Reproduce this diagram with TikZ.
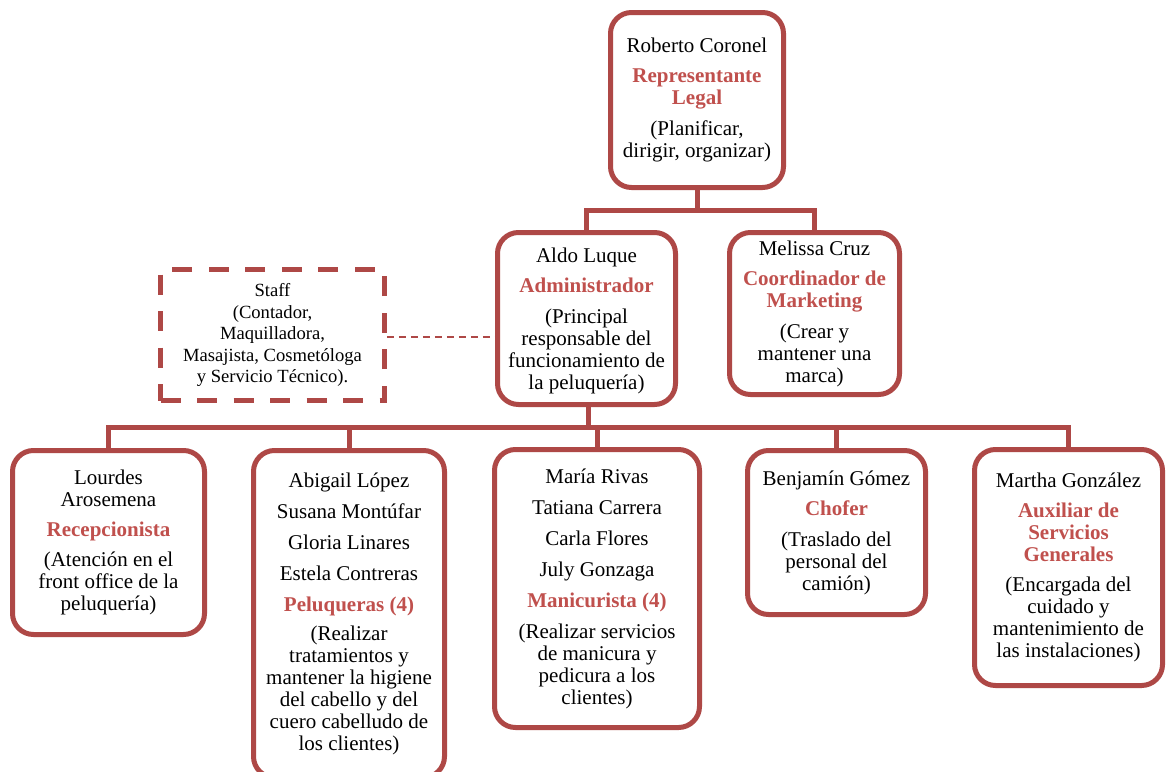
\documentclass[tikz,border=0pt]{standalone}
\usepackage{fontspec}
\setmainfont{Liberation Serif}
\definecolor{linered}{RGB}{174,72,70}
\definecolor{titlered}{RGB}{192,80,77}
\newcommand\rolet[1]{{\color{titlered}\bfseries #1}}
\tikzset{
  box/.style={draw=linered, line width=5pt, rounded corners=21pt, fill=white,
    inner sep=0pt, align=center, font=\fontsize{21}{22}\selectfont},
  staffbox/.style={draw=linered, line width=4.5pt, dash pattern=on 20pt off 16.5pt,
    fill=white, inner sep=0pt, align=center, font=\fontsize{18.6}{21.5}\selectfont},
  conn/.style={draw=linered, line width=5pt},
  staffconn/.style={draw=linered, line width=1.5pt, dash pattern=on 7pt off 5pt}
}
\begin{document}
\begin{tikzpicture}[x=1pt,y=-1pt]
\useasboundingbox (0,0) rectangle (1166,771);
\clip (0,0) rectangle (1166,771);
\fill[white] (0,0) rectangle (1166,771);

\node[box, minimum width=173pt, minimum height=175pt, text depth=4pt] (rob) at (697,100)
  {Roberto Coronel\\[8pt]\rolet{Representante}\\\rolet{Legal}\\[9pt](Planificar,\\dirigir, organizar)};
\node[box, minimum width=178pt, minimum height=172pt] (aldo) at (586.5,318.5)
  {\rule{0pt}{19pt}Aldo Luque\\[8pt]\rolet{Administrador}\\[9pt](Principal\\responsable del\\funcionamiento de\\la peluquería)};
\node[box, minimum width=170pt, minimum height=162pt] (mel) at (814.5,313.5)
  {Melissa Cruz\\[8pt]\rolet{Coordinador de}\\\rolet{Marketing}\\[9pt](Crear y\\mantener una\\marca)};
\node[staffbox, minimum width=224pt, minimum height=131pt] (staff) at (272.5,335)
  {Staff\\(Contador,\\Maquilladora,\\Masajista, Cosmetóloga\\y Servicio Técnico).};

\node[box, minimum width=192pt, minimum height=184pt] (lou) at (108.5,542.5)
  {Lourdes\\Arosemena\\[8pt]\rolet{Recepcionista}\\[8pt](Atención en el\\front office de la\\peluquería)};
\node[box, minimum width=191pt, minimum height=327pt] (abi) at (349,614)
  {Abigail López\\[9pt]Susana Montúfar\\[9pt]Gloria Linares\\[9pt]Estela Contreras\\[9pt]\rolet{Peluqueras (4)}\\[7pt](Realizar\\tratamientos y\\mantener la higiene\\del cabello y del\\cuero cabelludo de\\los clientes)};
\node[box, minimum width=205pt, minimum height=278pt] (mari) at (597,588.5)
  {María Rivas\\[9pt]Tatiana Carrera\\[9pt]Carla Flores\\[9pt]July Gonzaga\\[9pt]\rolet{Manicurista (4)}\\[9pt](Realizar servicios\\de manicura y\\pedicura a los\\clientes)};
\node[box, minimum width=178pt, minimum height=164pt] (ben) at (836.5,532.5)
  {Benjamín Gómez\\[8pt]\rolet{Chofer}\\[9pt](Traslado del\\personal del\\camión)};
\node[box, minimum width=188pt, minimum height=236pt] (mart) at (1068.5,567.5)
  {Martha González\\[8pt]\rolet{Auxiliar de}\\\rolet{Servicios}\\\rolet{Generales}\\[8pt](Encargada del\\cuidado y\\mantenimiento de\\las instalaciones)};

\coordinate (j1) at (697,210);
\coordinate (j2) at (588,427);
\path[conn] (rob.south) -- (j1);
\path[conn] (aldo.north) |- (j1) -| (mel.north);
\path[conn] (aldo.south -| j2) -- (j2);
\path[conn] (lou.north) |- (j2) -| (mart.north);
\path[conn] (abi.north) -- (abi.north |- j2);
\path[conn] (mari.north) -- (mari.north |- j2);
\path[conn] (ben.north) -- (ben.north |- j2);
\path[staffconn] ([yshift=-2pt]staff.east) -- ([yshift=-2pt]staff.east -| aldo.west);
\end{tikzpicture}
\end{document}
